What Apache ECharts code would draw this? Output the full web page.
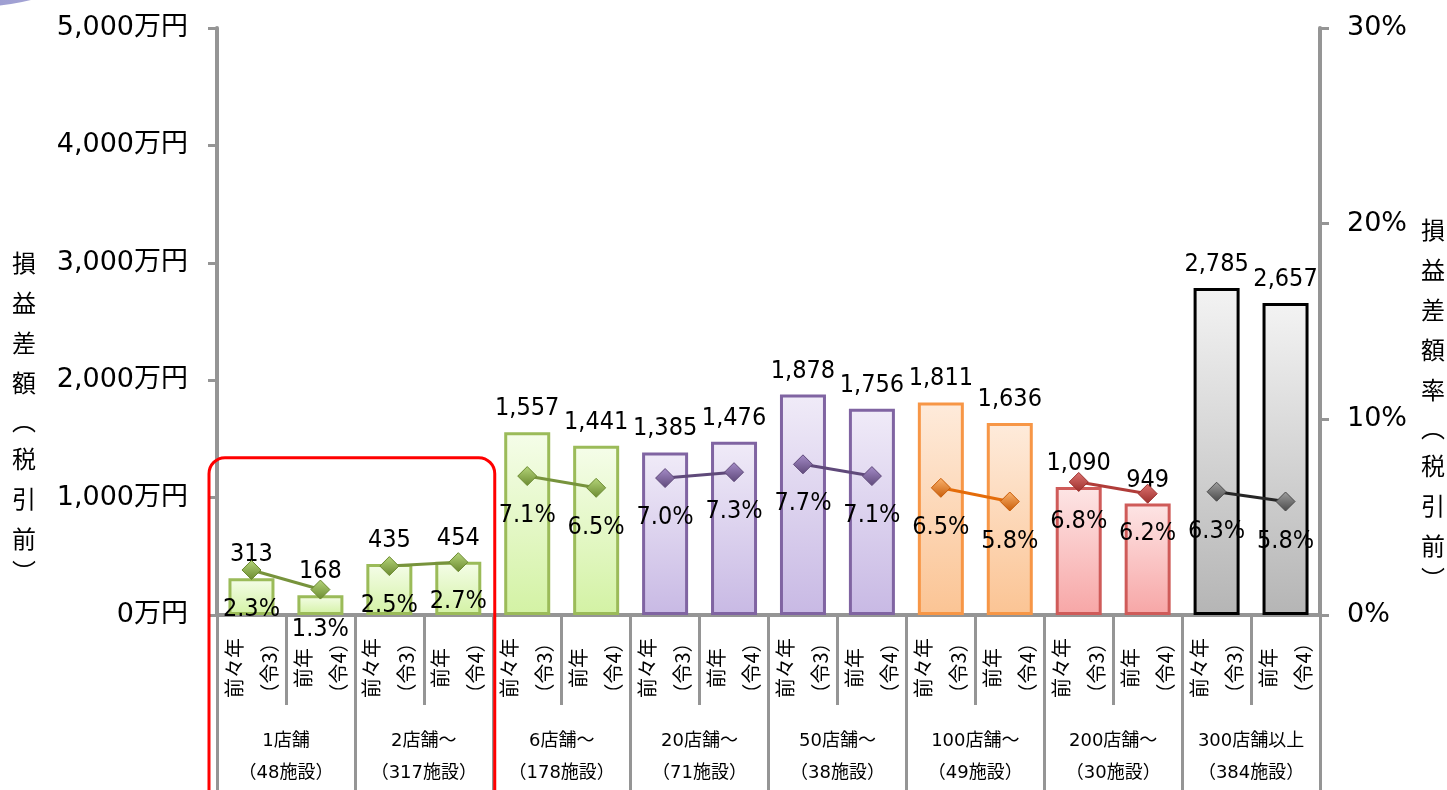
<!DOCTYPE html>
<html><head><meta charset="utf-8">
<script src="https://cdn.jsdelivr.net/npm/echarts/dist/echarts.min.js"></script>
<style>html,body{margin:0;padding:0;background:#fff}#c{width:1447px;height:790px}</style>
</head><body><div id="c"></div><script>
// ---- data ----
const periods = ['前々年\n（令3）', '前年\n（令4）'];
const groups = ['1店舗\n（48施設）', '2店舗～\n（317施設）', '6店舗～\n（178施設）', '20店舗～\n（71施設）', '50店舗～\n（38施設）', '100店舗～\n（49施設）', '200店舗～\n（30施設）', '300店舗以上\n（384施設）'];
const amounts = [313, 168, 435, 454, 1557, 1441, 1385, 1476, 1878, 1756, 1811, 1636, 1090, 949, 2785, 2657];
const rates = [2.3, 1.3, 2.5, 2.7, 7.1, 6.5, 7.0, 7.3, 7.7, 7.1, 6.5, 5.8, 6.8, 6.2, 6.3, 5.8];
const leftTicks = [0, 1000, 2000, 3000, 4000, 5000];
const rightTicks = [0, 10, 20, 30];
const leftTitle = ['損', '益', '差', '額', '︵', '税', '引', '前', '︶'];
const rightTitle = ['損', '益', '差', '額', '率', '︵', '税', '引', '前', '︶'];
const highlightGroups = [0, 1];

// ---- styles ----
const palettes = {
  green:  { border: '#9bbb59', top: '#f5fde9', bottom: '#d3f2a4', line: '#77933c', mLight: '#b5d57a', mDark: '#6b8a30' },
  purple: { border: '#8064a2', top: '#f0ebf8', bottom: '#c8b9e4', line: '#5f497a', mLight: '#a58cc8', mDark: '#5f497a' },
  orange: { border: '#f79646', top: '#feebdb', bottom: '#fbc494', line: '#e46c0a', mLight: '#fbb36e', mDark: '#c85c08' },
  red:    { border: '#cf5b59', top: '#fde5e5', bottom: '#f7a6a6', line: '#b03c39', mLight: '#de7370', mDark: '#9c2f2c' },
  grey:   { border: '#000000', top: '#f3f3f3', bottom: '#b5b5b5', line: '#262626', mLight: '#a0a0a0', mDark: '#4a4a4a' }
};
const groupPalette = ['green', 'green', 'green', 'purple', 'purple', 'orange', 'red', 'grey'];
const AX = '#959595';
const NUMFONT = "'DejaVu Sans', 'Noto Sans CJK JP', sans-serif";
const LBLFONT = "'DejaVu Sans Condensed', 'DejaVu Sans', sans-serif";
const CJK = "'Noto Sans CJK JP', sans-serif";

const cats = groups.flatMap(() => periods);
const vgrad = (a, b) => new echarts.graphic.LinearGradient(0, 0, 0, 1, [{ offset: 0, color: a }, { offset: 1, color: b }]);

const barData = amounts.map((v, i) => {
  const p = palettes[groupPalette[Math.floor(i / 2)]];
  return { value: v, itemStyle: { color: vgrad(p.top, p.bottom), borderColor: p.border, borderWidth: 3 } };
});

const lineSeries = groups.map((g, gi) => {
  const p = palettes[groupPalette[gi]];
  return {
    type: 'line', xAxisIndex: 0, yAxisIndex: 1, z: 5,
    data: rates.map((r, i) => Math.floor(i / 2) === gi ? r : '-'),
    symbol: 'diamond', symbolSize: 19,
    lineStyle: { color: p.line, width: 3 },
    itemStyle: { color: vgrad(p.mLight, p.mDark), borderColor: p.mDark, borderWidth: 1 },
    label: { show: true, position: 'bottom', distance: 17, fontSize: 25, color: '#000', fontFamily: LBLFONT,
      formatter: q => Number(q.value).toFixed(1) + '%' },
    emphasis: { disabled: true }
  };
});

const chart = echarts.init(document.getElementById('c'));
const option = {
  animation: false,
  backgroundColor: '#fff',
  grid: { left: 217, right: 127, top: 28, bottom: 175, containLabel: false },
  xAxis: [
    { type: 'category', data: cats, position: 'bottom',
      axisLine: { show: true, lineStyle: { color: AX, width: 4 } },
      axisTick: { show: true, interval: 0, length: 90, lineStyle: { color: AX, width: 3 } },
      axisLabel: { interval: 0, rotate: 90, align: 'center', verticalAlign: 'middle', margin: 53,
        lineHeight: 35, fontSize: 20, color: '#000', fontFamily: CJK } },
    { type: 'category', data: groups, position: 'bottom',
      axisLine: { show: false },
      axisTick: { show: true, interval: 0, length: 180, lineStyle: { color: AX, width: 3 } },
      axisLabel: { interval: 0, margin: 110, lineHeight: 32, fontSize: 18, color: '#000', fontFamily: NUMFONT } }
  ],
  yAxis: [
    { type: 'value', min: leftTicks[0], max: leftTicks[leftTicks.length - 1], interval: 1000, position: 'left',
      axisLine: { show: true, lineStyle: { color: AX, width: 4 } },
      axisTick: { show: true, length: 9, lineStyle: { color: AX, width: 3 } },
      splitLine: { show: false },
      axisLabel: { margin: 29, fontSize: 27, color: '#000', fontFamily: NUMFONT,
        formatter: v => v.toLocaleString('en-US') + '万円' } },
    { type: 'value', min: rightTicks[0], max: rightTicks[rightTicks.length - 1], interval: 10, position: 'right',
      axisLine: { show: true, lineStyle: { color: AX, width: 4 } },
      axisTick: { show: true, length: 9, lineStyle: { color: AX, width: 3 } },
      splitLine: { show: false },
      axisLabel: { margin: 27, fontSize: 27, color: '#000', fontFamily: NUMFONT, formatter: v => v + '%' } }
  ],
  series: [
    { type: 'bar', xAxisIndex: 0, yAxisIndex: 0, data: barData, barWidth: 46, z: 2,
      label: { show: true, position: 'top', distance: 11, fontSize: 25, color: '#000', fontFamily: LBLFONT,
        formatter: q => q.value.toLocaleString('en-US') },
      emphasis: { disabled: true } },
    ...lineSeries
  ]
};
chart.setOption(option);

// ---- annotations (titles, highlight frame, decoration) ----
const titleRich = (chars) => chars.map(c => (c === '︵' ? '{p|' + c + '}' : c === '︶' ? '{q|' + c + '}' : '{a|' + c + '}')).join('\n');
const rich = {
  a: { fontSize: 24, lineHeight: 40, fontFamily: CJK, color: '#000', align: 'center' },
  p: { fontSize: 24, lineHeight: 36, fontFamily: CJK, color: '#000', align: 'center' },
  q: { fontSize: 24, lineHeight: 26, fontFamily: CJK, color: '#000', align: 'center' }
};
const gFirst = highlightGroups[0] * 2, gLast = highlightGroups[highlightGroups.length - 1] * 2 + 1;
const x0 = chart.convertToPixel({ xAxisIndex: 0 }, gFirst);
const x1 = chart.convertToPixel({ xAxisIndex: 0 }, gLast);
const slot = chart.convertToPixel({ xAxisIndex: 0 }, 1) - x0;
const yTop = chart.convertToPixel({ yAxisIndex: 0 }, 1340);

chart.setOption({
  graphic: [
    { type: 'circle', z: 0, shape: { cx: -40, cy: -310, r: 318 }, silent: true,
      style: { fill: new echarts.graphic.LinearGradient(0, 0, 1, 0, [{ offset: 0, color: '#6f6fb8' }, { offset: 1, color: '#c4c4e6' }]) } },
    { type: 'text', silent: true,
      style: { x: 24, y: 243, text: titleRich(leftTitle), rich: rich, align: 'center', verticalAlign: 'top' } },
    { type: 'text', silent: true,
      style: { x: 1433, y: 210, text: titleRich(rightTitle), rich: rich, align: 'center', verticalAlign: 'top' } },
    { type: 'rect', z: 100, silent: true,
      shape: { x: x0 - slot / 2 - 8, y: yTop, width: (x1 - x0) + slot + 10, height: 360, r: 16 },
      style: { fill: 'none', stroke: '#ff0000', lineWidth: 3 } }
  ]
});
</script></body></html>
